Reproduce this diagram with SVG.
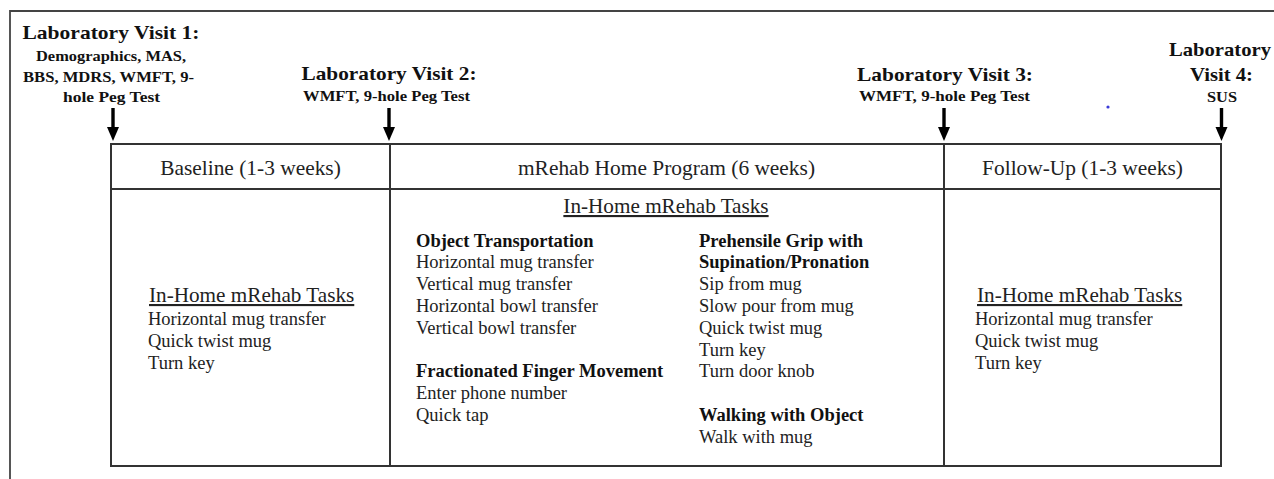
<svg xmlns="http://www.w3.org/2000/svg" width="1274" height="479" viewBox="0 0 1274 479">
  <defs>
    <style>
      .frame { fill: none; stroke: #444; stroke-width: 1.8; }
      .tbl { fill: none; stroke: #333; stroke-width: 2; }
      .hd { font-family: "Liberation Serif", "Times New Roman", serif; font-weight: bold; font-size: 19px; fill: #111; text-anchor: middle; }
      .sub { font-family: "Liberation Serif", "Times New Roman", serif; font-weight: bold; font-size: 14px; fill: #111; text-anchor: middle; }
      .col { font-family: "Liberation Serif", "Times New Roman", serif; font-size: 21.4px; fill: #222; text-anchor: middle; }
      .sec { font-family: "Liberation Serif", "Times New Roman", serif; font-size: 21.2px; fill: #222; text-decoration: underline; }
      .item { font-family: "Liberation Serif", "Times New Roman", serif; font-size: 18.5px; fill: #222; }
      .cat { font-family: "Liberation Serif", "Times New Roman", serif; font-size: 18.5px; font-weight: bold; fill: #111; }
      .arr { fill: #000; }
    </style>
    <g id="down-arrow">
      <rect x="-1.7" y="0" width="3.4" height="20" class="arr"/>
      <polygon points="-6,19 6,19 0,33" class="arr"/>
    </g>
  </defs>
  <rect width="1274" height="479" fill="#fff"/>
  <g id="frame">
    <polyline class="frame" points="1274,11 10,11 10,479"/>
  </g>
  <circle cx="1108" cy="107" r="1.6" fill="#3a3ad8"/>

  <g id="visit1">
    <text class="hd" x="111" y="39" textLength="177" lengthAdjust="spacingAndGlyphs">Laboratory Visit 1:</text>
    <text class="sub" x="111" y="61" textLength="150" lengthAdjust="spacingAndGlyphs">Demographics, MAS,</text>
    <text class="sub" x="108.5" y="82" textLength="171" lengthAdjust="spacingAndGlyphs">BBS, MDRS, WMFT, 9-</text>
    <text class="sub" x="111.5" y="102" textLength="97" lengthAdjust="spacingAndGlyphs">hole Peg Test</text>
  </g>
  <g id="visit2">
    <text class="hd" x="389" y="80" textLength="175" lengthAdjust="spacingAndGlyphs">Laboratory Visit 2:</text>
    <text class="sub" x="386.5" y="101" textLength="167" lengthAdjust="spacingAndGlyphs">WMFT, 9-hole Peg Test</text>
  </g>
  <g id="visit3">
    <text class="hd" x="945" y="81" textLength="176" lengthAdjust="spacingAndGlyphs">Laboratory Visit 3:</text>
    <text class="sub" x="944.5" y="101" textLength="171" lengthAdjust="spacingAndGlyphs">WMFT, 9-hole Peg Test</text>
  </g>
  <g id="visit4">
    <text class="hd" x="1220" y="56" textLength="102" lengthAdjust="spacingAndGlyphs">Laboratory</text>
    <text class="hd" x="1221.5" y="81" textLength="63" lengthAdjust="spacingAndGlyphs">Visit 4:</text>
    <text class="sub" x="1222" y="102" textLength="30" lengthAdjust="spacingAndGlyphs">SUS</text>
  </g>

  <g id="connectors">
    <use href="#down-arrow" x="113" y="108"/>
    <use href="#down-arrow" x="389" y="108"/>
    <use href="#down-arrow" x="944" y="108"/>
    <use href="#down-arrow" x="1221.5" y="108"/>
  </g>

  <g id="table">
    <rect class="tbl" x="111" y="144" width="1110" height="322"/>
    <line class="tbl" x1="111" y1="189" x2="1221" y2="189"/>
    <line class="tbl" x1="390" y1="144" x2="390" y2="466"/>
    <line class="tbl" x1="944" y1="144" x2="944" y2="466"/>
  </g>

  <g id="baseline">
    <text class="col" x="250.5" y="175">Baseline (1-3 weeks)</text>
    <text class="sec" x="149" y="302">In-Home mRehab Tasks</text>
    <text class="item" x="148" y="325">Horizontal mug transfer</text>
    <text class="item" x="148" y="346.8">Quick twist mug</text>
    <text class="item" x="148" y="368.6">Turn key</text>
  </g>

  <g id="home-program">
    <text class="col" x="666.5" y="175">mRehab Home Program (6 weeks)</text>
    <text class="sec" x="666" y="213" text-anchor="middle">In-Home mRehab Tasks</text>
    <text class="cat" x="416" y="246.5">Object Transportation</text>
    <text class="item" x="416" y="268.3">Horizontal mug transfer</text>
    <text class="item" x="416" y="290.1">Vertical mug transfer</text>
    <text class="item" x="416" y="311.9">Horizontal bowl transfer</text>
    <text class="item" x="416" y="333.7">Vertical bowl transfer</text>
    <text class="cat" x="416" y="377.3">Fractionated Finger Movement</text>
    <text class="item" x="416" y="399.1">Enter phone number</text>
    <text class="item" x="416" y="420.9">Quick tap</text>
    <text class="cat" x="699" y="246.5">Prehensile Grip with</text>
    <text class="cat" x="699" y="268.3">Supination/Pronation</text>
    <text class="item" x="699" y="290.1">Sip from mug</text>
    <text class="item" x="699" y="311.9">Slow pour from mug</text>
    <text class="item" x="699" y="333.7">Quick twist mug</text>
    <text class="item" x="699" y="355.5">Turn key</text>
    <text class="item" x="699" y="377.3">Turn door knob</text>
    <text class="cat" x="699" y="420.9">Walking with Object</text>
    <text class="item" x="699" y="442.7">Walk with mug</text>
  </g>

  <g id="follow-up">
    <text class="col" x="1082.5" y="175">Follow-Up (1-3 weeks)</text>
    <text class="sec" x="977" y="302">In-Home mRehab Tasks</text>
    <text class="item" x="975" y="325">Horizontal mug transfer</text>
    <text class="item" x="975" y="346.8">Quick twist mug</text>
    <text class="item" x="975" y="368.6">Turn key</text>
  </g>
</svg>
